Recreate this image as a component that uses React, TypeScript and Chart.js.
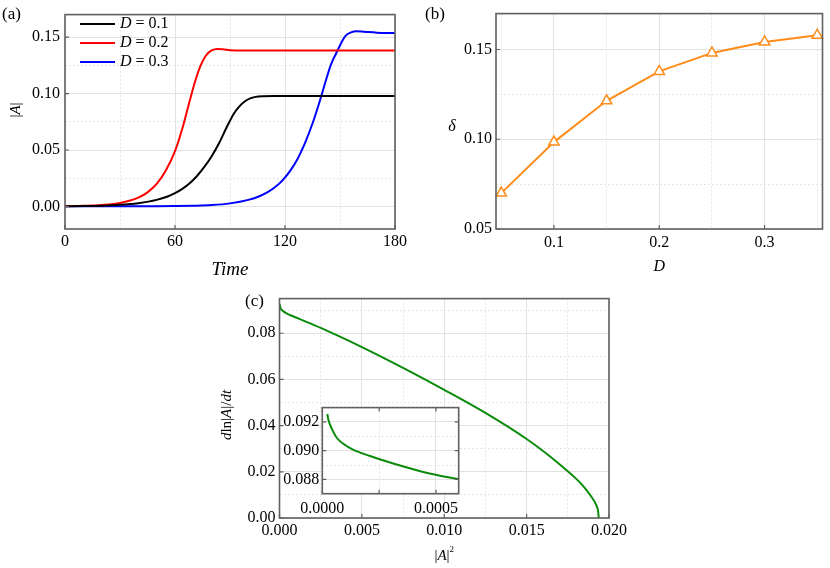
import React, { useEffect, useRef } from "react";
import { Chart, registerables } from "chart.js";

Chart.register(...registerables);

const FONT = '"Liberation Serif", "Times New Roman", serif';
const MAJOR_GRID = "#e2e2e2";
const MINOR_GRID = "#e6e6e6";
const FRAME = "#606060";

// ---------- Panel (a): |A| vs Time ----------
const D_VALUES = [0.1, 0.2, 0.3];
const A_COLORS = ["#000000", "#ff0000", "#0000ff"];

const T_D01 = [0, 10, 20, 30, 40, 50, 56, 60, 64, 68, 72, 76, 80, 84, 88, 92, 95, 98, 101, 104, 108, 114, 130, 180];
const A_D01 = [0.00016, 0.00033, 0.00068, 0.0014, 0.0029, 0.0058, 0.0088, 0.0117, 0.0155, 0.0205, 0.027, 0.035, 0.0445, 0.056, 0.0695, 0.082, 0.0885, 0.093, 0.0958, 0.0971, 0.0977, 0.0979, 0.0979, 0.0979];

const T_D02 = [0, 10, 20, 30, 40, 45, 50, 55, 60, 64, 68, 71, 74, 77, 80, 83, 86, 90, 95, 110, 130, 180];
const A_D02 = [0.00023, 0.00055, 0.0013, 0.0031, 0.0078, 0.0125, 0.02, 0.0318, 0.049, 0.069, 0.0935, 0.111, 0.125, 0.134, 0.1382, 0.1395, 0.1393, 0.1385, 0.1381, 0.1381, 0.1381, 0.1381];

const T_D03 = [0, 20, 40, 50, 60, 70, 80, 90, 100, 106, 111, 115, 119, 123, 127, 129.2, 131, 135, 139, 142, 145, 148, 151, 153, 156, 159, 163, 170, 180];
const A_D03 = [0.0001, 0.0001, 0.0001, 0.00015, 0.0003, 0.0006, 0.0012, 0.0027, 0.0058, 0.009, 0.0131, 0.0176, 0.0238, 0.032, 0.0425, 0.05, 0.0565, 0.0735, 0.0935, 0.11, 0.1255, 0.136, 0.146, 0.1512, 0.1542, 0.1552, 0.1548, 0.154, 0.1537];

const A_X_TICKS = [0, 30, 60, 90, 120, 150, 180];
const A_X_LABELED = [0, 60, 120, 180];
const A_Y_TICKS = [0, 0.025, 0.05, 0.075, 0.1, 0.125, 0.15];
const A_Y_LABELED = [0, 0.05, 0.1, 0.15];

// ---------- Panel (b): delta vs D ----------
const B_D = [0.05, 0.1, 0.15, 0.2, 0.25, 0.3, 0.35];
const B_DELTA = [0.07, 0.0984, 0.1214, 0.1378, 0.1481, 0.1542, 0.158];
const B_X_TICKS = [0.05, 0.1, 0.15, 0.2, 0.25, 0.3, 0.35];
const B_X_LABELED = [0.1, 0.2, 0.3];
const B_Y_TICKS = [0.05, 0.075, 0.1, 0.125, 0.15];
const B_Y_LABELED = [0.05, 0.1, 0.15];

// ---------- Panel (c): d ln|A|/dt vs |A|^2 ----------
const C_X = [0.000022, 0.0000265, 0.0000414, 0.0000635, 0.0000926, 0.000137, 0.00021, 0.000284, 0.000357, 0.000431, 0.000504, 0.0006, 0.0012, 0.0025, 0.005, 0.0075, 0.01, 0.0125, 0.015, 0.0165, 0.0175, 0.0179, 0.0183, 0.0186, 0.0189, 0.0192, 0.01933, 0.01938];
const C_Y = [0.09255, 0.09217, 0.09153, 0.0909, 0.09048, 0.09005, 0.08963, 0.08924, 0.08889, 0.08857, 0.0883, 0.088, 0.0862, 0.0823, 0.074, 0.065, 0.0555, 0.0455, 0.0342, 0.0262, 0.0202, 0.0177, 0.0149, 0.0124, 0.0095, 0.006, 0.0033, 0.0];
const C_X_TICKS = [0, 0.0025, 0.005, 0.0075, 0.01, 0.0125, 0.015, 0.0175, 0.02];
const C_X_LABELED = [0, 0.005, 0.01, 0.015, 0.02];
const C_Y_TICKS = [0, 0.01, 0.02, 0.03, 0.04, 0.05, 0.06, 0.07, 0.08, 0.09];
const C_Y_LABELED = [0, 0.02, 0.04, 0.06, 0.08];
const INSET_X_TICKS = [0, 0.00025, 0.0005];
const INSET_X_LABELED = [0, 0.0005];
const INSET_Y_TICKS = [0.088, 0.089, 0.09, 0.091, 0.092];
const INSET_Y_LABELED = [0.088, 0.09, 0.092];

const isIn = (list: number[], v: any) =>
  typeof v === "number" && list.some((u) => Math.abs(u - v) < 1e-9);

const toXY = (xs: number[], ys: number[]) => xs.map((x, i) => ({ x, y: ys[i] }));

type Part = { t: string; i?: boolean; sup?: boolean };

function drawRich(ctx: any, parts: Part[], x: number, y: number, size: number, align = "center", rotate = false) {
  ctx.save();
  ctx.translate(x, y);
  if (rotate) ctx.rotate(-Math.PI / 2);
  const fontOf = (p: Part) => `${p.i ? "italic " : ""}${p.sup ? Math.round(size * 0.62) : size}px ${FONT}`;
  let total = 0;
  const widths = parts.map((p) => {
    ctx.font = fontOf(p);
    const w = ctx.measureText(p.t).width;
    total += w;
    return w;
  });
  let cx = align === "center" ? -total / 2 : 0;
  ctx.fillStyle = "#000";
  ctx.textBaseline = "middle";
  ctx.textAlign = "left";
  parts.forEach((p, k) => {
    ctx.font = fontOf(p);
    ctx.fillText(p.t, cx, p.sup ? -size * 0.42 : 0);
    cx += widths[k];
  });
  ctx.restore();
}

function makeScale(
  axis: "x" | "y",
  min: number,
  max: number,
  ticks: number[],
  labeled: number[],
  fmt: (v: number) => string,
  pad: number,
  fit: number,
  fontSize = 16
) {
  return {
    type: "linear",
    min,
    max,
    afterBuildTicks: (s: any) => {
      s.ticks = ticks.map((v) => ({ value: v }));
    },
    afterFit: (s: any) => {
      if (axis === "x") s.height = fit;
      else s.width = fit;
    },
    ticks: {
      autoSkip: false,
      maxRotation: 0,
      minRotation: 0,
      padding: pad,
      color: "#000",
      font: { family: FONT, size: fontSize },
      callback: (v: any) => (isIn(labeled, v) ? fmt(v) : ""),
    },
    grid: {
      drawTicks: false,
      lineWidth: 1,
      color: (c: any) => (isIn(labeled, c.tick && c.tick.value) ? MAJOR_GRID : MINOR_GRID),
    },
    border: {
      display: false,
      dash: (c: any) => (c.tick && !isIn(labeled, c.tick.value) ? [2, 2] : []),
    },
  };
}

function framePlugin(opts: { xTicks: number[]; yTicks: number[]; len: number; allSides: boolean; fillWhite?: boolean }) {
  return {
    id: "frame",
    beforeDraw(chart: any) {
      if (!opts.fillWhite) return;
      const a = chart.chartArea;
      const ctx = chart.ctx;
      ctx.save();
      ctx.fillStyle = "#ffffff";
      ctx.fillRect(a.left, a.top, a.right - a.left, a.bottom - a.top);
      ctx.restore();
    },
    afterDraw(chart: any) {
      const a = chart.chartArea;
      const ctx = chart.ctx;
      const xs = chart.scales.x;
      const ys = chart.scales.y;
      ctx.save();
      ctx.strokeStyle = FRAME;
      ctx.lineWidth = 1.2;
      ctx.beginPath();
      opts.xTicks.forEach((v) => {
        const px = xs.getPixelForValue(v);
        ctx.moveTo(px, a.bottom);
        ctx.lineTo(px, a.bottom - opts.len);
        if (opts.allSides) {
          ctx.moveTo(px, a.top);
          ctx.lineTo(px, a.top + opts.len);
        }
      });
      opts.yTicks.forEach((v) => {
        const py = ys.getPixelForValue(v);
        ctx.moveTo(a.left, py);
        ctx.lineTo(a.left + opts.len, py);
        if (opts.allSides) {
          ctx.moveTo(a.right, py);
          ctx.lineTo(a.right - opts.len, py);
        }
      });
      ctx.stroke();
      ctx.lineWidth = 1.6;
      ctx.strokeRect(a.left, a.top, a.right - a.left, a.bottom - a.top);
      ctx.restore();
    },
  };
}

function textPlugin(draw: (chart: any, ctx: any, a: any) => void) {
  return {
    id: "texts",
    afterDraw(chart: any) {
      draw(chart, chart.ctx, chart.chartArea);
    },
  };
}

const baseOptions = (padding: any) => ({
  responsive: false,
  maintainAspectRatio: false,
  animation: false,
  devicePixelRatio: 1,
  layout: { padding },
  plugins: { legend: { display: false }, tooltip: { enabled: false } },
  elements: { point: { radius: 0 } },
});

function configA() {
  const series = [
    [T_D01, A_D01],
    [T_D02, A_D02],
    [T_D03, A_D03],
  ];
  return {
    type: "line",
    data: {
      datasets: series.map(([t, a], i) => ({
        label: `D = ${D_VALUES[i]}`,
        data: toXY(t, a),
        borderColor: A_COLORS[i],
        borderWidth: 2,
        pointRadius: 0,
        cubicInterpolationMode: "monotone",
        fill: false,
      })),
    },
    options: {
      ...baseOptions({ top: 3, right: 14, left: 0, bottom: 0 }),
      scales: {
        x: makeScale("x", 0, 180, A_X_TICKS, A_X_LABELED, (v) => String(v), 3, 56),
        y: makeScale("y", -0.02, 0.17, A_Y_TICKS, A_Y_LABELED, (v) => v.toFixed(2), 5, 65),
      },
    },
    plugins: [
      framePlugin({ xTicks: A_X_LABELED, yTicks: A_Y_LABELED, len: 4, allSides: false }),
      textPlugin((chart, ctx, a) => {
        drawRich(ctx, [{ t: "(a)" }], 2, 15, 17, "left");
        drawRich(ctx, [{ t: "|" }, { t: "A", i: true }, { t: "|" }], 16, 110, 15, "center", true);
        drawRich(ctx, [{ t: "Time", i: true }], (a.left + a.right) / 2, 270, 19);
        const rows = [24, 43, 62];
        chart.data.datasets.forEach((ds: any, i: number) => {
          const y = rows[i];
          ctx.save();
          ctx.strokeStyle = ds.borderColor;
          ctx.lineWidth = 2;
          ctx.beginPath();
          ctx.moveTo(80, y);
          ctx.lineTo(115, y);
          ctx.stroke();
          ctx.restore();
          const rest = ds.label.slice(1);
          drawRich(ctx, [{ t: "D", i: true }, { t: rest }], 120, y, 16, "left");
        });
      }),
    ],
  };
}

function configB() {
  return {
    type: "line",
    data: {
      datasets: [
        {
          label: "delta",
          data: toXY(B_D, B_DELTA),
          borderColor: "#ff8c1a",
          borderWidth: 2,
          pointStyle: "triangle",
          pointRadius: 6,
          pointBackgroundColor: "#ffffff",
          pointBorderColor: "#ff8c1a",
          pointBorderWidth: 1.5,
          tension: 0,
          clip: false,
          fill: false,
        },
      ],
    },
    options: {
      ...baseOptions({ top: 3, right: 4, left: 0, bottom: 0 }),
      scales: {
        x: makeScale("x", 0.045, 0.355, B_X_TICKS, B_X_LABELED, (v) => v.toFixed(1), 4, 56),
        y: makeScale("y", 0.05, 0.17, B_Y_TICKS, B_Y_LABELED, (v) => v.toFixed(2), 4, 76),
      },
    },
    plugins: [
      framePlugin({ xTicks: B_X_LABELED, yTicks: B_Y_LABELED, len: 4, allSides: false }),
      textPlugin((chart, ctx, a) => {
        drawRich(ctx, [{ t: "(b)" }], 5, 15, 17, "left");
        drawRich(ctx, [{ t: "δ", i: true }], 32, 127, 16);
        drawRich(ctx, [{ t: "D", i: true }], (a.left + a.right) / 2, 267, 16);
      }),
    ],
  };
}

function configC() {
  return {
    type: "line",
    data: {
      datasets: [
        {
          label: "dln|A|/dt",
          data: toXY(C_X, C_Y),
          borderColor: "#0a8a0a",
          borderWidth: 2,
          pointRadius: 0,
          cubicInterpolationMode: "monotone",
          fill: false,
        },
      ],
    },
    options: {
      ...baseOptions({ top: 6, right: 20, left: 0, bottom: 0 }),
      scales: {
        x: makeScale("x", 0, 0.02, C_X_TICKS, C_X_LABELED, (v) => v.toFixed(3), 3, 50),
        y: makeScale("y", 0, 0.095, C_Y_TICKS, C_Y_LABELED, (v) => v.toFixed(2), 4, 79.5),
      },
    },
    plugins: [
      framePlugin({ xTicks: C_X_LABELED, yTicks: C_Y_LABELED, len: 4, allSides: false }),
      textPlugin((chart, ctx, a) => {
        drawRich(ctx, [{ t: "(c)" }], 45, 17, 17, "left");
        drawRich(
          ctx,
          [{ t: "d", i: true }, { t: "ln|" }, { t: "A", i: true }, { t: "|/" }, { t: "dt", i: true }],
          27,
          130,
          15,
          "center",
          true
        );
        drawRich(ctx, [{ t: "|" }, { t: "A", i: true }, { t: "|" }, { t: "2", sup: true }], (a.left + a.right) / 2, 271, 15);
      }),
    ],
  };
}

function configInset() {
  return {
    type: "line",
    data: {
      datasets: [
        {
          label: "inset",
          data: toXY(C_X, C_Y),
          borderColor: "#0a8a0a",
          borderWidth: 2,
          pointRadius: 0,
          cubicInterpolationMode: "monotone",
          fill: false,
        },
      ],
    },
    options: {
      ...baseOptions({ top: 3.3, right: 6.3, left: 0, bottom: 0 }),
      scales: {
        x: makeScale("x", 0, 0.0006, INSET_X_TICKS, INSET_X_LABELED, (v) => v.toFixed(4), 5, 26.3),
        y: makeScale("y", 0.087, 0.093, INSET_Y_TICKS, INSET_Y_LABELED, (v) => v.toFixed(3), 3, 47.3),
      },
    },
    plugins: [framePlugin({ xTicks: INSET_X_TICKS, yTicks: INSET_Y_LABELED, len: 4, allSides: true, fillWhite: true })],
  };
}

function ChartBox(props: { left: number; top: number; width: number; height: number; config: () => any }) {
  const ref = useRef<HTMLCanvasElement>(null);
  useEffect(() => {
    const chart = new Chart(ref.current as HTMLCanvasElement, props.config() as any);
    return () => chart.destroy();
  }, []);
  return (
    <canvas
      ref={ref}
      width={props.width}
      height={props.height}
      style={{ position: "absolute", left: props.left, top: props.top, width: props.width, height: props.height }}
    />
  );
}

export default function App() {
  return (
    <div style={{ position: "absolute", left: 0, top: 0, width: 830, height: 568, background: "#ffffff", overflow: "hidden" }}>
      <ChartBox left={0} top={0} width={410} height={285} config={configA} />
      <ChartBox left={420} top={0} width={410} height={285} config={configB} />
      <ChartBox left={200} top={285} width={430} height={283} config={configC} />
      <ChartBox left={275} top={395} width={190} height={125} config={configInset} />
    </div>
  );
}
